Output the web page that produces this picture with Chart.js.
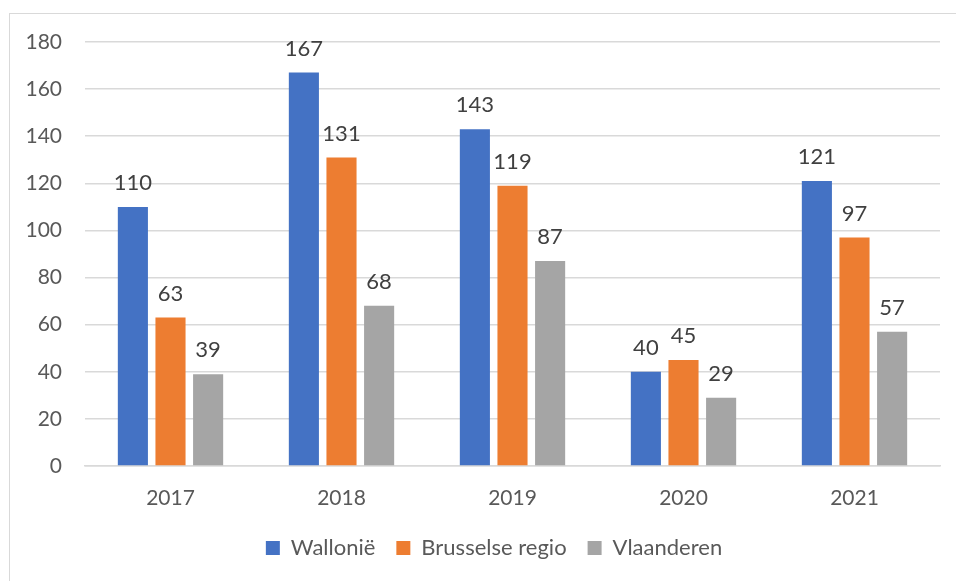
<!DOCTYPE html>
<html>
<head>
<meta charset="utf-8">
<script src="https://cdn.jsdelivr.net/npm/chart.js@4"></script>
<style>
  html, body { margin: 0; padding: 0; background: #fff; }
  #wrap { position: relative; width: 956px; height: 581px; overflow: hidden; }
  #frame { position: absolute; left: 9px; top: 13px; width: 1000px; height: 1000px; border: 1.5px solid #d9d9d9; box-sizing: border-box; }
  #chart { position: absolute; left: 0; top: 0; }
</style>
</head>
<body>
<div id="wrap">
  <div id="frame"></div>
  <canvas id="chart" width="956" height="581"></canvas>
</div>
<script>
// --- Data ---
const years = ['2017', '2018', '2019', '2020', '2021'];
const wallonie = [110, 167, 143, 40, 121];
const brussel = [63, 131, 119, 45, 97];
const vlaanderen = [39, 68, 87, 29, 57];
const yTicks = [0, 20, 40, 60, 80, 100, 120, 140, 160, 180];

const textColor = '#595959';
const labelColor = '#404040';
const gridColor = '#d9d9d9';
const fontFamily = 'Lato, "Open Sans", sans-serif';

// value labels above every bar
const barLabels = {
  id: 'barLabels',
  afterDatasetsDraw(chart) {
    const ctx = chart.ctx;
    ctx.save();
    ctx.fillStyle = labelColor;
    ctx.font = '22px ' + fontFamily;
    ctx.textAlign = 'center';
    ctx.textBaseline = 'bottom';
    chart.data.datasets.forEach((ds, i) => {
      chart.getDatasetMeta(i).data.forEach((bar, j) => {
        ctx.fillText(ds.data[j], bar.x, bar.y - 13);
      });
    });
    ctx.restore();
  }
};

// nudge the legend right so it sits centred under the plot
const legendShift = {
  id: 'legendShift',
  afterLayout(chart) {
    chart.legend.left += 24;
    chart.legend.right += 24;
  }
};

const common = { categoryPercentage: 0.66, barPercentage: 0.8 };

new Chart(document.getElementById('chart'), {
  type: 'bar',
  data: {
    labels: years,
    datasets: [
      { label: 'Wallonië', data: wallonie, backgroundColor: '#4472C4', ...common },
      { label: 'Brusselse regio', data: brussel, backgroundColor: '#ED7D31', ...common },
      { label: 'Vlaanderen', data: vlaanderen, backgroundColor: '#A5A5A5', ...common }
    ]
  },
  options: {
    responsive: false,
    animation: false,
    layout: { padding: { top: 42, right: 16, bottom: 12, left: 0 } },
    scales: {
      x: {
        grid: { display: false },
        border: { color: gridColor, width: 1.5 },
        ticks: { color: textColor, font: { family: fontFamily, size: 21 }, padding: 12 },
        afterFit(s) { s.height = 50; }
      },
      y: {
        min: 0, max: 180,
        afterBuildTicks(s) { s.ticks = yTicks.map(v => ({ value: v })); },
        grid: { color: gridColor, lineWidth: 1.5, drawTicks: false },
        border: { display: false },
        ticks: { color: textColor, font: { family: fontFamily, size: 21 }, padding: 23 },
        afterFit(s) { s.width = 85; }
      }
    },
    plugins: {
      tooltip: { enabled: false },
      legend: {
        position: 'bottom',
        labels: {
          color: textColor,
          font: { family: fontFamily, size: 22 },
          boxWidth: 14, boxHeight: 14,
          padding: 21
        }
      }
    }
  },
  plugins: [barLabels, legendShift]
});
</script>
</body>
</html>
